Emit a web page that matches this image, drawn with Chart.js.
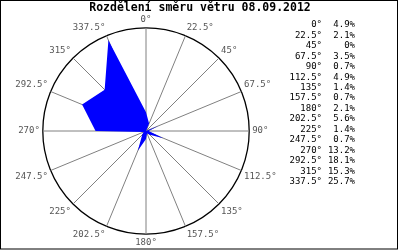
<!DOCTYPE html>
<html>
<head>
<meta charset="utf-8">
<script src="https://cdn.jsdelivr.net/npm/chart.js"></script>
<style>
  body { margin: 0; background: #fff; }
  #wrap { width: 400px; height: 250px; }
</style>
</head>
<body>
<div id="wrap"><canvas id="rose"></canvas></div>
<script>
const rose = document.getElementById('rose')

// smery a procenta
const directions = ['0°', '22.5°', '45°', '67.5°', '90°', '112.5°', '135°', '157.5°',
  '180°', '202.5°', '225°', '247.5°', '270°', '292.5°', '315°', '337.5°']
const percent = [4.9, 2.1, 0, 3.5, 0.7, 4.9, 1.4, 0.7, 2.1, 5.6, 1.4, 0.7, 13.2, 18.1, 15.3, 25.7]
const percentText = ['4.9%', '2.1%', '0%', '3.5%', '0.7%', '4.9%', '1.4%', '0.7%',
  '2.1%', '5.6%', '1.4%', '0.7%', '13.2%', '18.1%', '15.3%', '25.7%']
const title = 'Rozdělení směru větru 08.09.2012'

const mono = 'DejaVu Sans Mono'

// title, legend and frame
const extras = {
  id: 'extras',
  afterDraw(chart) {
    const ctx = chart.ctx
    ctx.save()
    ctx.fillStyle = '#000'
    ctx.font = 'bold 11.5px ' + mono
    ctx.textAlign = 'center'
    ctx.textBaseline = 'middle'
    ctx.fillText(title, 200, 8)

    ctx.font = '9px ' + mono
    ctx.textAlign = 'right'
    for (let i = 0; i < directions.length; i++) {
      let y = 25 + i * 10.45
      ctx.fillText(directions[i], 322, y)
      ctx.fillText(percentText[i], 355, y)
    }

    ctx.strokeStyle = '#000'
    ctx.lineWidth = 1
    ctx.strokeRect(0.5, 0.5, 397, 248.5)
    ctx.restore()
  }
}

new Chart(rose, {
  type: 'radar',
  data: {
    labels: directions,
    datasets: [{
      label: 'vitr',
      data: percent,
      backgroundColor: '#0000ff',
      borderWidth: 0,
      pointRadius: 0,
      fill: true
    }]
  },
  options: {
    responsive: true,
    maintainAspectRatio: false,
    animation: false,
    layout: {
      padding: { left: 15, right: 123, top: 14, bottom: 1 }
    },
    plugins: {
      legend: { display: false },
      tooltip: { enabled: false }
    },
    scales: {
      r: {
        min: 0,
        max: 27,
        ticks: { display: false, stepSize: 27 },
        grid: { circular: true, color: '#000', lineWidth: 1.3 },
        angleLines: { color: '#808080', lineWidth: 1 },
        pointLabels: {
          color: '#555',
          padding: 3,
          font: { family: mono, size: 9 }
        }
      }
    }
  },
  plugins: [extras]
})
</script>
</body>
</html>
